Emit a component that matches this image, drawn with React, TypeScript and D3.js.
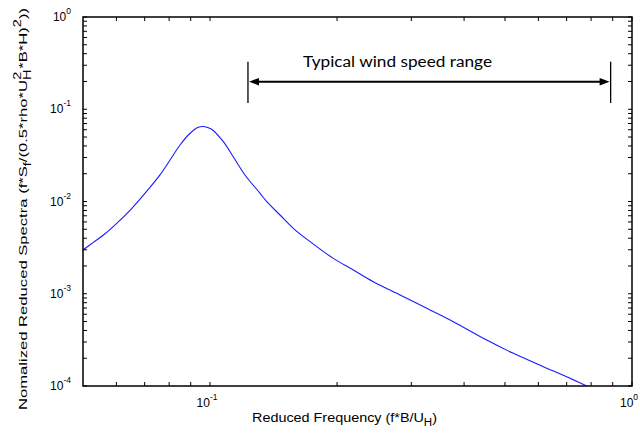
import React from "react";
import * as d3 from "d3";

const freq = [0.05, 0.0529, 0.0559, 0.0601, 0.0653, 0.0714, 0.0761, 0.0804, 0.0849, 0.0897, 0.0938, 0.0973, 0.1009, 0.1075, 0.1135, 0.121, 0.1314, 0.1363, 0.1465, 0.1575, 0.1726, 0.1959, 0.2186, 0.2438, 0.282, 0.3263, 0.3772, 0.4442, 0.5234, 0.6164, 0.7003, 0.7811];
const spectra = [0.00298, 0.00361, 0.00433, 0.0058, 0.00844, 0.0135, 0.0194, 0.0282, 0.041, 0.0549, 0.0637, 0.0647, 0.0606, 0.0445, 0.0306, 0.0194, 0.01227, 0.00995, 0.00714, 0.00512, 0.00367, 0.00242, 0.00181, 0.00135, 0.000969, 0.000695, 0.000498, 0.000329, 0.000226, 0.000162, 0.000126, 0.0001];

const xMajorTicks = [0.1, 1];
const xMinorTicks = [0.06, 0.07, 0.08, 0.09, 0.2, 0.3, 0.4, 0.5, 0.6, 0.7, 0.8, 0.9];
const yMajorTicks = [1e-4, 1e-3, 1e-2, 1e-1, 1];
const yMinorMultipliers = [2, 3, 4, 5, 6, 7, 8, 9];
const xTickExponents = ["-1", "0"];
const yTickExponents = ["-4", "-3", "-2", "-1", "0"];
const rangeBounds = [0.123, 0.89];
const rangeLabel = "Typical wind speed range";

const W = 640, H = 435;
const M = { left: 83, right: 632, top: 17, bottom: 386 };
const font = "'Liberation Sans', Arial, sans-serif";

export default function App() {
  const x = d3.scaleLog().domain([0.05, 1]).range([M.left, M.right]);
  const y = d3.scaleLog().domain([1e-4, 1]).range([M.bottom, M.top]);
  const line = d3
    .line<number>()
    .x((_, i) => x(freq[i]))
    .y((d) => y(d))
    .curve(d3.curveCatmullRom.alpha(0.5));
  const yMinor: number[] = [];
  yMajorTicks.slice(0, -1).forEach((t) => yMinorMultipliers.forEach((m) => yMinor.push(t * m)));
  const tl = 4;
  const arrowY = 81.7;
  const xa = x(rangeBounds[0]);
  const xb = x(rangeBounds[1]);
  return (
    <svg width={W} height={H} style={{ position: "absolute", left: 0, top: 0, background: "#fff" }}>
      <defs>
        <clipPath id="plot">
          <rect x={M.left} y={M.top} width={M.right - M.left} height={M.bottom - M.top} />
        </clipPath>
      </defs>
      <path d={line(spectra) || ""} fill="none" stroke="#1a1aff" strokeWidth={1.1} clipPath="url(#plot)" />
      {/* ticks */}
      <g stroke="#000" strokeWidth={1}>
        {[...xMajorTicks, ...xMinorTicks].map((t, i) => (
          <g key={"xt" + i}>
            <line x1={x(t)} x2={x(t)} y1={M.bottom} y2={M.bottom - tl} />
            <line x1={x(t)} x2={x(t)} y1={M.top} y2={M.top + tl} />
          </g>
        ))}
        {[...yMajorTicks, ...yMinor].map((t, i) => (
          <g key={"yt" + i}>
            <line x1={M.left} x2={M.left + tl} y1={y(t)} y2={y(t)} />
            <line x1={M.right} x2={M.right - tl} y1={y(t)} y2={y(t)} />
          </g>
        ))}
      </g>
      <rect x={M.left} y={M.top} width={M.right - M.left} height={M.bottom - M.top} fill="none" stroke="#000" strokeWidth={1.5} />
      {/* tick labels */}
      <g fontFamily={font} fill="#000">
        {xMajorTicks.map((t, i) => (
          <text key={"xl" + i} x={x(t) - 3} y={M.bottom + 21} fontSize={12} textAnchor="middle">
            10<tspan fontSize={8.5} dy={-7}>{xTickExponents[i]}</tspan>
          </text>
        ))}
        {yMajorTicks.map((t, i) => (
          <text key={"yl" + i} x={M.left - 12} y={y(t) + 4} fontSize={12} textAnchor="end">
            10<tspan fontSize={8.5} dy={-7}>{yTickExponents[i]}</tspan>
          </text>
        ))}
      </g>
      {/* axis labels */}
      <text x={252} y={421.5} fontFamily={font} fontSize={12.5} textLength={185} lengthAdjust="spacingAndGlyphs">
        Reduced Frequency (f*B/U<tspan fontSize={10} dy={4}>H</tspan><tspan dy={-4}>)</tspan>
      </text>
      <text
        transform={`translate(27,410) rotate(-90)`}
        fontFamily={font}
        fontSize={11.5}
        textLength={402}
        lengthAdjust="spacingAndGlyphs"
      >
        Nomalized Reduced Spectra (f*S<tspan fontSize={10} dy={4}>f</tspan>
        <tspan dy={-4}>/(0.5*rho*U</tspan>
        <tspan fontSize={10} dy={4}>H</tspan>
        <tspan fontSize={10} dx={-7} dy={-10}>2</tspan>
        <tspan dx={2} dy={6}>*B*H)</tspan>
        <tspan fontSize={10} dy={-6}>2</tspan>
        <tspan dy={6}>))</tspan>
      </text>
      {/* annotation */}
      <g stroke="#000">
        <line x1={xa} x2={xa} y1={61.7} y2={103} strokeWidth={1.3} />
        <line x1={xb} x2={xb} y1={61.7} y2={103} strokeWidth={1.3} />
        <line x1={xa + 8} x2={xb - 8} y1={arrowY} y2={arrowY} strokeWidth={2} />
      </g>
      <path d={`M${xa + 1},${arrowY} L${xa + 11},${arrowY - 3.8} L${xa + 11},${arrowY + 3.8} Z`} fill="#000" />
      <path d={`M${xb - 1},${arrowY} L${xb - 11},${arrowY - 3.8} L${xb - 11},${arrowY + 3.8} Z`} fill="#000" />
      <text
        x={303}
        y={67}
        fontFamily="Lato, 'Open Sans', sans-serif"
        fontSize={15.5}
        textLength={189}
        lengthAdjust="spacingAndGlyphs"
      >
        {rangeLabel}
      </text>
    </svg>
  );
}
